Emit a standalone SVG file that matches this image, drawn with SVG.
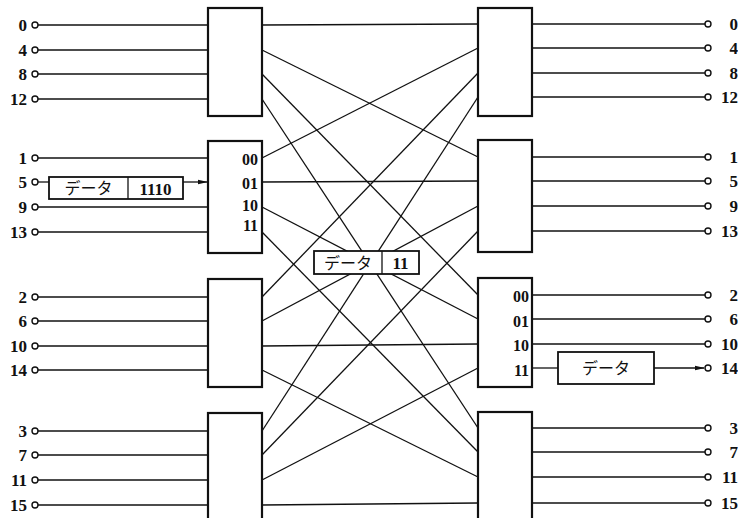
<svg xmlns="http://www.w3.org/2000/svg" width="738" height="518" viewBox="0 0 738 518">
<defs>
<style>
.box{fill:#fff;stroke:#111;stroke-width:2.2}
.sbox{fill:#fff;stroke:#111;stroke-width:1.8}
.ln{stroke:#111;stroke-width:1.3;fill:none}
.term{fill:#fff;stroke:#111;stroke-width:1.4}
.num{font-family:"Liberation Serif","DejaVu Serif",serif;font-weight:bold;font-size:17px;fill:#111}
.bl{font-size:16px}
.jp{font-family:"Noto Sans CJK JP",sans-serif;font-size:16px;fill:#111}
</style>
<marker id="ah" markerWidth="10" markerHeight="6" refX="9" refY="3" orient="auto" markerUnits="userSpaceOnUse">
<path d="M0,0.8 L10,3 L0,5.2 Z" fill="#111"/>
</marker>
</defs>
<rect width="738" height="518" fill="#fff"/>

<g id="connectors">
<line class="ln" x1="38" y1="25" x2="208" y2="25"/>
<line class="ln" x1="38" y1="50" x2="208" y2="50"/>
<line class="ln" x1="38" y1="74" x2="208" y2="74"/>
<line class="ln" x1="38" y1="99" x2="208" y2="99"/>
<line class="ln" x1="38" y1="158" x2="208" y2="158"/>
<line class="ln" x1="38" y1="182" x2="49" y2="182"/>
<line class="ln" x1="183" y1="182" x2="207" y2="182" marker-end="url(#ah)"/>
<line class="ln" x1="38" y1="207" x2="208" y2="207"/>
<line class="ln" x1="38" y1="232" x2="208" y2="232"/>
<line class="ln" x1="38" y1="297" x2="208" y2="297"/>
<line class="ln" x1="38" y1="321" x2="208" y2="321"/>
<line class="ln" x1="38" y1="346" x2="208" y2="346"/>
<line class="ln" x1="38" y1="370" x2="208" y2="370"/>
<line class="ln" x1="38" y1="431" x2="208" y2="431"/>
<line class="ln" x1="38" y1="455" x2="208" y2="455"/>
<line class="ln" x1="38" y1="480" x2="208" y2="480"/>
<line class="ln" x1="38" y1="505" x2="208" y2="505"/>
<line class="ln" x1="262" y1="25" x2="478" y2="24"/>
<line class="ln" x1="262" y1="50" x2="478" y2="157"/>
<line class="ln" x1="262" y1="74" x2="478" y2="295"/>
<line class="ln" x1="262" y1="99" x2="478" y2="428"/>
<line class="ln" x1="262" y1="158" x2="478" y2="48"/>
<line class="ln" x1="262" y1="182" x2="478" y2="181"/>
<line class="ln" x1="262" y1="207" x2="478" y2="319"/>
<line class="ln" x1="262" y1="232" x2="478" y2="452"/>
<line class="ln" x1="262" y1="297" x2="478" y2="73"/>
<line class="ln" x1="262" y1="321" x2="478" y2="206"/>
<line class="ln" x1="262" y1="346" x2="478" y2="344"/>
<line class="ln" x1="262" y1="370" x2="478" y2="477"/>
<line class="ln" x1="262" y1="431" x2="478" y2="97"/>
<line class="ln" x1="262" y1="455" x2="478" y2="231"/>
<line class="ln" x1="262" y1="480" x2="478" y2="368"/>
<line class="ln" x1="262" y1="505" x2="478" y2="503"/>
<line class="ln" x1="532" y1="24" x2="705" y2="24"/>
<line class="ln" x1="532" y1="48" x2="705" y2="48"/>
<line class="ln" x1="532" y1="73" x2="705" y2="73"/>
<line class="ln" x1="532" y1="97" x2="705" y2="97"/>
<line class="ln" x1="532" y1="157" x2="705" y2="157"/>
<line class="ln" x1="532" y1="181" x2="705" y2="181"/>
<line class="ln" x1="532" y1="206" x2="705" y2="206"/>
<line class="ln" x1="532" y1="231" x2="705" y2="231"/>
<line class="ln" x1="532" y1="295" x2="705" y2="295"/>
<line class="ln" x1="532" y1="319" x2="705" y2="319"/>
<line class="ln" x1="532" y1="344" x2="705" y2="344"/>
<line class="ln" x1="532" y1="368" x2="558" y2="368"/>
<line class="ln" x1="654" y1="368" x2="704" y2="368" marker-end="url(#ah)"/>
<line class="ln" x1="532" y1="428" x2="705" y2="428"/>
<line class="ln" x1="532" y1="452" x2="705" y2="452"/>
<line class="ln" x1="532" y1="477" x2="705" y2="477"/>
<line class="ln" x1="532" y1="503" x2="705" y2="503"/>
</g>

<g id="left-terminals">
<circle class="term" cx="35" cy="25" r="3"/><text class="num" x="27" y="31" text-anchor="end">0</text>
<circle class="term" cx="35" cy="50" r="3"/><text class="num" x="27" y="56" text-anchor="end">4</text>
<circle class="term" cx="35" cy="74" r="3"/><text class="num" x="27" y="80" text-anchor="end">8</text>
<circle class="term" cx="35" cy="99" r="3"/><text class="num" x="27" y="105" text-anchor="end">12</text>
<circle class="term" cx="35" cy="158" r="3"/><text class="num" x="27" y="164" text-anchor="end">1</text>
<circle class="term" cx="35" cy="182" r="3"/><text class="num" x="27" y="188" text-anchor="end">5</text>
<circle class="term" cx="35" cy="207" r="3"/><text class="num" x="27" y="213" text-anchor="end">9</text>
<circle class="term" cx="35" cy="232" r="3"/><text class="num" x="27" y="238" text-anchor="end">13</text>
<circle class="term" cx="35" cy="297" r="3"/><text class="num" x="27" y="303" text-anchor="end">2</text>
<circle class="term" cx="35" cy="321" r="3"/><text class="num" x="27" y="327" text-anchor="end">6</text>
<circle class="term" cx="35" cy="346" r="3"/><text class="num" x="27" y="352" text-anchor="end">10</text>
<circle class="term" cx="35" cy="370" r="3"/><text class="num" x="27" y="376" text-anchor="end">14</text>
<circle class="term" cx="35" cy="431" r="3"/><text class="num" x="27" y="437" text-anchor="end">3</text>
<circle class="term" cx="35" cy="455" r="3"/><text class="num" x="27" y="461" text-anchor="end">7</text>
<circle class="term" cx="35" cy="480" r="3"/><text class="num" x="27" y="486" text-anchor="end">11</text>
<circle class="term" cx="35" cy="505" r="3"/><text class="num" x="27" y="511" text-anchor="end">15</text>
</g>

<g id="right-terminals">
<circle class="term" cx="708" cy="24" r="3"/><text class="num" x="738" y="30" text-anchor="end">0</text>
<circle class="term" cx="708" cy="48" r="3"/><text class="num" x="738" y="54" text-anchor="end">4</text>
<circle class="term" cx="708" cy="73" r="3"/><text class="num" x="738" y="79" text-anchor="end">8</text>
<circle class="term" cx="708" cy="97" r="3"/><text class="num" x="738" y="103" text-anchor="end">12</text>
<circle class="term" cx="708" cy="157" r="3"/><text class="num" x="738" y="163" text-anchor="end">1</text>
<circle class="term" cx="708" cy="181" r="3"/><text class="num" x="738" y="187" text-anchor="end">5</text>
<circle class="term" cx="708" cy="206" r="3"/><text class="num" x="738" y="212" text-anchor="end">9</text>
<circle class="term" cx="708" cy="231" r="3"/><text class="num" x="738" y="237" text-anchor="end">13</text>
<circle class="term" cx="708" cy="295" r="3"/><text class="num" x="738" y="301" text-anchor="end">2</text>
<circle class="term" cx="708" cy="319" r="3"/><text class="num" x="738" y="325" text-anchor="end">6</text>
<circle class="term" cx="708" cy="344" r="3"/><text class="num" x="738" y="350" text-anchor="end">10</text>
<circle class="term" cx="708" cy="368" r="3"/><text class="num" x="738" y="374" text-anchor="end">14</text>
<circle class="term" cx="708" cy="428" r="3"/><text class="num" x="738" y="434" text-anchor="end">3</text>
<circle class="term" cx="708" cy="452" r="3"/><text class="num" x="738" y="458" text-anchor="end">7</text>
<circle class="term" cx="708" cy="477" r="3"/><text class="num" x="738" y="483" text-anchor="end">11</text>
<circle class="term" cx="708" cy="503" r="3"/><text class="num" x="738" y="509" text-anchor="end">15</text>
</g>

<g id="left-box-1"><rect class="box" x="208" y="8" width="54" height="108"/></g>
<g id="left-box-2"><rect class="box" x="208" y="141" width="54" height="112"/>
<text class="num bl" x="258" y="165" text-anchor="end">00</text>
<text class="num bl" x="258" y="189" text-anchor="end">01</text>
<text class="num bl" x="258" y="211" text-anchor="end">10</text>
<text class="num bl" x="258" y="231" text-anchor="end">11</text>
</g>
<g id="left-box-3"><rect class="box" x="208" y="279" width="54" height="108"/></g>
<g id="left-box-4"><rect class="box" x="208" y="413" width="54" height="115"/></g>

<g id="right-box-1"><rect class="box" x="478" y="8" width="54" height="108"/></g>
<g id="right-box-2"><rect class="box" x="478" y="140" width="54" height="112"/></g>
<g id="right-box-3"><rect class="box" x="478" y="278" width="54" height="109"/>
<text class="num bl" x="529" y="302" text-anchor="end">00</text>
<text class="num bl" x="529" y="327" text-anchor="end">01</text>
<text class="num bl" x="529" y="351" text-anchor="end">10</text>
<text class="num bl" x="529" y="376" text-anchor="end">11</text>
</g>
<g id="right-box-4"><rect class="box" x="478" y="412" width="54" height="116"/></g>

<g id="packet-in">
<rect class="sbox" x="49" y="177" width="134" height="22"/>
<line class="ln" x1="128" y1="177" x2="128" y2="199" stroke-width="1.6"/>
<text class="jp" x="88.5" y="194" text-anchor="middle">データ</text>
<text class="num" x="155.5" y="194.5" text-anchor="middle">1110</text>
</g>

<g id="packet-mid">
<rect class="sbox" x="314" y="251" width="105" height="23"/>
<line class="ln" x1="382" y1="251" x2="382" y2="274" stroke-width="1.6"/>
<text class="jp" x="348" y="268.5" text-anchor="middle">データ</text>
<text class="num" x="400.5" y="269" text-anchor="middle">11</text>
</g>

<g id="packet-out">
<rect class="sbox" x="558" y="352" width="96" height="32"/>
<text class="jp" x="606" y="374" text-anchor="middle">データ</text>
</g>
</svg>
